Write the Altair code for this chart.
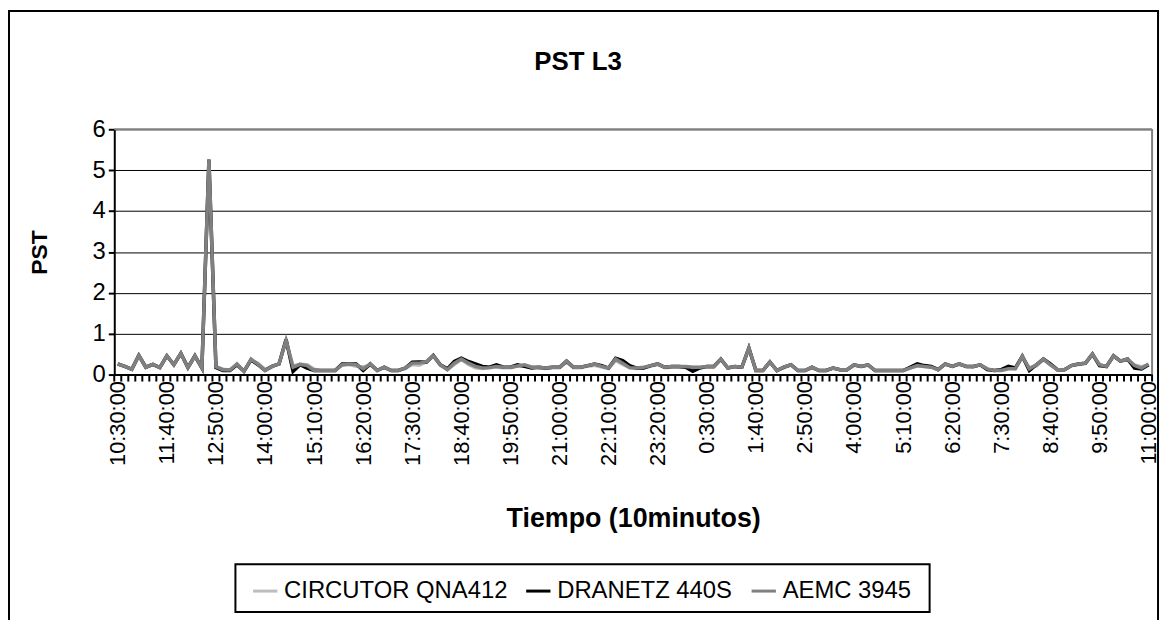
import altair as alt
import pandas as pd

tick_labels = ["10:30:00", "11:40:00", "12:50:00", "14:00:00", "15:10:00", "16:20:00",
               "17:30:00", "18:40:00", "19:50:00", "21:00:00", "22:10:00", "23:20:00",
               "0:30:00", "1:40:00", "2:50:00", "4:00:00", "5:10:00", "6:20:00",
               "7:30:00", "8:40:00", "9:50:00", "11:00:00"]

series_names = ["CIRCUTOR QNA412", "DRANETZ 440S", "AEMC 3945"]
series_colors = ["#BDBDBD", "#000000", "#808080"]
series_widths = [3, 3.5, 3.5]

circutor = [
    0.24, 0.20, 0.14, 0.46, 0.18, 0.24, 0.18, 0.45, 0.24, 0.50,
    0.18, 0.45, 0.17, 5.20, 0.20, 0.14, 0.12, 0.24, 0.10, 0.36,
    0.28, 0.14, 0.20, 0.26, 0.80, 0.22, 0.26, 0.25, 0.14, 0.10,
    0.10, 0.10, 0.22, 0.24, 0.20, 0.20, 0.22, 0.12, 0.16, 0.10,
    0.10, 0.14, 0.24, 0.22, 0.30, 0.44, 0.22, 0.12, 0.24, 0.36,
    0.24, 0.16, 0.14, 0.16, 0.18, 0.16, 0.16, 0.20, 0.22, 0.20,
    0.16, 0.14, 0.16, 0.16, 0.30, 0.16, 0.16, 0.20, 0.22, 0.18,
    0.14, 0.34, 0.24, 0.16, 0.14, 0.16, 0.20, 0.24, 0.16, 0.18,
    0.18, 0.20, 0.18, 0.18, 0.18, 0.18, 0.36, 0.18, 0.18, 0.18,
    0.62, 0.12, 0.10, 0.30, 0.12, 0.16, 0.24, 0.10, 0.10, 0.16,
    0.10, 0.10, 0.16, 0.12, 0.12, 0.22, 0.20, 0.22, 0.10, 0.10,
    0.10, 0.10, 0.10, 0.16, 0.20, 0.20, 0.18, 0.14, 0.24, 0.20,
    0.24, 0.20, 0.18, 0.24, 0.14, 0.10, 0.10, 0.16, 0.14, 0.42,
    0.18, 0.20, 0.36, 0.24, 0.12, 0.12, 0.22, 0.24, 0.26, 0.48,
    0.26, 0.18, 0.44, 0.32, 0.36, 0.24, 0.20, 0.24]

dranetz = [
    0.26, 0.20, 0.13, 0.47, 0.18, 0.25, 0.17, 0.46, 0.24, 0.52,
    0.17, 0.46, 0.16, 5.25, 0.17, 0.10, 0.10, 0.24, 0.08, 0.36,
    0.24, 0.10, 0.20, 0.26, 0.86, 0.08, 0.24, 0.16, 0.10, 0.10,
    0.10, 0.10, 0.26, 0.26, 0.26, 0.10, 0.26, 0.10, 0.18, 0.10,
    0.10, 0.16, 0.30, 0.31, 0.30, 0.47, 0.24, 0.14, 0.32, 0.40,
    0.32, 0.26, 0.20, 0.18, 0.24, 0.18, 0.18, 0.24, 0.20, 0.16,
    0.18, 0.16, 0.18, 0.18, 0.33, 0.18, 0.18, 0.22, 0.26, 0.22,
    0.16, 0.40, 0.34, 0.22, 0.16, 0.16, 0.22, 0.26, 0.18, 0.20,
    0.20, 0.18, 0.08, 0.16, 0.20, 0.20, 0.38, 0.16, 0.20, 0.18,
    0.65, 0.10, 0.10, 0.31, 0.10, 0.18, 0.24, 0.10, 0.10, 0.18,
    0.10, 0.10, 0.16, 0.12, 0.12, 0.24, 0.20, 0.24, 0.10, 0.10,
    0.10, 0.10, 0.10, 0.18, 0.26, 0.22, 0.20, 0.12, 0.26, 0.20,
    0.26, 0.20, 0.20, 0.24, 0.12, 0.10, 0.12, 0.20, 0.16, 0.45,
    0.10, 0.24, 0.38, 0.26, 0.12, 0.12, 0.22, 0.26, 0.28, 0.50,
    0.22, 0.20, 0.46, 0.33, 0.38, 0.16, 0.14, 0.24]

aemc = [
    0.26, 0.20, 0.13, 0.47, 0.18, 0.25, 0.17, 0.46, 0.24, 0.52,
    0.17, 0.46, 0.16, 5.27, 0.19, 0.12, 0.11, 0.26, 0.08, 0.38,
    0.25, 0.10, 0.20, 0.26, 0.84, 0.18, 0.25, 0.22, 0.10, 0.10,
    0.10, 0.10, 0.24, 0.26, 0.24, 0.14, 0.26, 0.10, 0.18, 0.10,
    0.10, 0.16, 0.28, 0.28, 0.31, 0.46, 0.24, 0.12, 0.28, 0.38,
    0.28, 0.20, 0.16, 0.17, 0.20, 0.18, 0.18, 0.21, 0.24, 0.18,
    0.18, 0.16, 0.18, 0.18, 0.33, 0.18, 0.18, 0.22, 0.26, 0.20,
    0.16, 0.38, 0.28, 0.17, 0.16, 0.18, 0.22, 0.26, 0.18, 0.20,
    0.20, 0.20, 0.18, 0.18, 0.20, 0.20, 0.38, 0.16, 0.20, 0.18,
    0.65, 0.10, 0.10, 0.31, 0.10, 0.18, 0.24, 0.10, 0.10, 0.18,
    0.10, 0.10, 0.16, 0.12, 0.12, 0.24, 0.20, 0.24, 0.10, 0.10,
    0.10, 0.10, 0.10, 0.16, 0.22, 0.20, 0.18, 0.12, 0.26, 0.20,
    0.26, 0.20, 0.20, 0.24, 0.14, 0.10, 0.10, 0.14, 0.14, 0.45,
    0.14, 0.24, 0.38, 0.24, 0.12, 0.12, 0.22, 0.26, 0.28, 0.50,
    0.24, 0.20, 0.46, 0.33, 0.38, 0.22, 0.16, 0.26]

chart_title = "PST L3"

n = len(aemc)
rows = []
for name, vals in zip(series_names, [circutor, dranetz, aemc]):
    for i, v in enumerate(vals):
        rows.append({"idx": i, "pst": v, "serie": name})
df = pd.DataFrame(rows)

W, H = 1045, 247
FONT = "Liberation Sans"

x_scale = alt.Scale(domain=[-0.5, n - 0.5], nice=False, zero=False)
y_scale = alt.Scale(domain=[0, 6], nice=False)
color_scale = alt.Scale(domain=series_names, range=series_colors)

label_expr = "[" + ",".join("'%s'" % t for t in tick_labels) + "][round(datum.value / 7)]"

x_axis = alt.Axis(values=list(range(0, n, 7)), labelExpr=label_expr, labelAngle=-90,
                  labelAlign="right", labelBaseline="middle",
                  labelFontSize=22, labelColor="black", labelFont=FONT,
                  ticks=False, tickSize=0, labelPadding=6, labelOverlap=False, labelFlush=False,
                  domainColor="black", domainWidth=2, grid=False,
                  title="Tiempo (10minutos)", titleFontSize=27, titleFontWeight="bold",
                  titleColor="black", titleFont=FONT, titleY=145, titleBaseline="middle")

y_axis = alt.Axis(values=[0, 1, 2, 3, 4, 5, 6], labelFontSize=24, labelColor="black", labelFont=FONT,
                  tickSize=6, tickColor="black", tickWidth=2, labelPadding=3,
                  domainColor="black", domainWidth=2, grid=True, gridColor="black", gridWidth=1,
                  title="PST", titleFontSize=23, titleFontWeight="bold", titleColor="black",
                  titleFont=FONT, titleX=-75, titleY=H / 2, titleBaseline="middle", titleAngle=-90)

legend = alt.Legend(orient="none", legendX=138, legendY=451, direction="horizontal", title=None,
                    symbolType="stroke", symbolSize=600, symbolStrokeWidth=3,
                    labelFontSize=24, labelFont=FONT, labelColor="black", labelOffset=5,
                    labelLimit=0, columnPadding=12, padding=0)

one = pd.DataFrame({"a": [0]})

frame = alt.Chart(one).mark_rect(fill=None, stroke="black", strokeWidth=2).encode(
    x=alt.value(-106), x2=alt.value(1051), y=alt.value(-119), y2=alt.value(800))

title_mark = alt.Chart(one).mark_text(text=chart_title, fontSize=26, fontWeight="bold", font=FONT,
                                      color="black", align="center", baseline="middle").encode(
    x=alt.value(467), y=alt.value(-68))

top_border = alt.Chart(one).mark_rule(color="#808080", strokeWidth=2).encode(
    x=alt.value(0), x2=alt.value(W), y=alt.value(0))
right_border = alt.Chart(one).mark_rule(color="#808080", strokeWidth=2).encode(
    x=alt.value(W), y=alt.value(0), y2=alt.value(H))

bounds = pd.DataFrame({"b": [i - 0.5 for i in range(n + 1)]})
ticks = alt.Chart(bounds).mark_rule(color="black", strokeWidth=2).encode(
    x=alt.X("b:Q", scale=x_scale, axis=x_axis), y=alt.value(H), y2=alt.value(H + 7))

legend_box = alt.Chart(one).mark_rect(fill=None, stroke="black", strokeWidth=2).encode(
    x=alt.value(237 - 115), x2=alt.value(936 - 115), y=alt.value(566 - 128), y2=alt.value(614 - 128))

layers = [frame, title_mark, legend_box, top_border, right_border, ticks]
for name, sw in zip(series_names, series_widths):
    layers.append(
        alt.Chart(df).transform_filter(alt.datum.serie == name).mark_line(strokeWidth=sw).encode(
            x=alt.X("idx:Q", scale=x_scale, axis=x_axis),
            y=alt.Y("pst:Q", scale=y_scale, axis=y_axis),
            color=alt.Color("serie:N", scale=color_scale, legend=legend),
        )
    )

chart = alt.layer(*layers).properties(
    width=W, height=H,
    autosize=alt.AutoSizeParams(type="none"),
    padding={"left": 107, "top": 120, "right": 10, "bottom": 245},
).configure_view(stroke=None).configure(font=FONT, background="white")

chart.save("out.html", embed_options={"renderer": "svg", "actions": False})
